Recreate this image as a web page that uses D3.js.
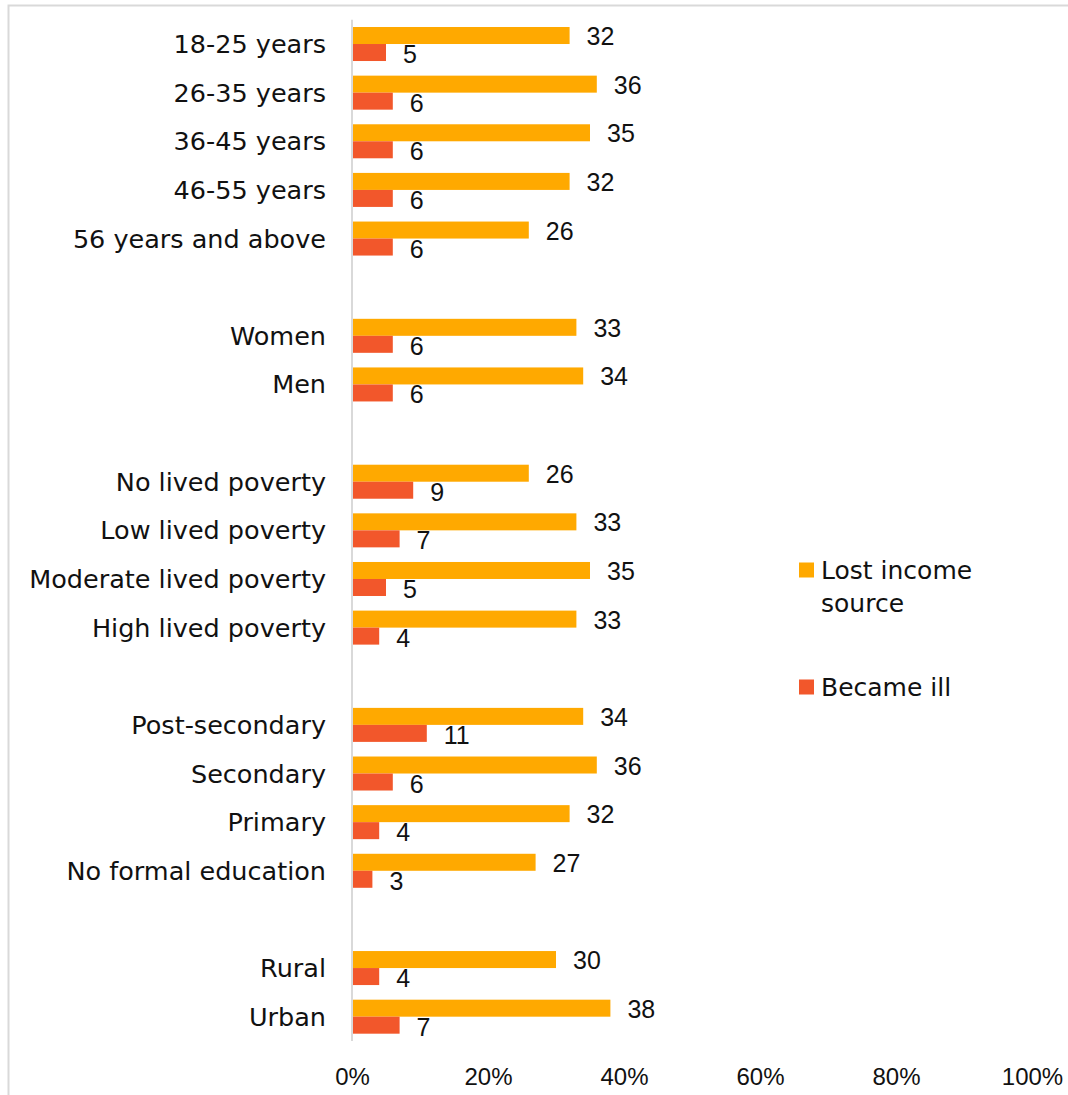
<!DOCTYPE html>
<html><head><meta charset="utf-8">
<script src="https://cdn.jsdelivr.net/npm/d3@7"></script>
<style>body{margin:0;background:#fff}svg{display:block}</style>
</head><body>
<script>
const categories = ["18-25 years","26-35 years","36-45 years","46-55 years","56 years and above","",
  "Women","Men","",
  "No lived poverty","Low lived poverty","Moderate lived poverty","High lived poverty","",
  "Post-secondary","Secondary","Primary","No formal education","",
  "Rural","Urban"];
const lostIncome = [32,36,35,32,26,null,33,34,null,26,33,35,33,null,34,36,32,27,null,30,38];
const becameIll  = [5,6,6,6,6,null,6,6,null,9,7,5,4,null,11,6,4,3,null,4,7];
const seriesNames = ["Lost income source","Became ill"];
const xTicks = [0,20,40,60,80,100];

const W=1068,H=1095;
const colors=["#FFA900","#F2572B"];
const font="'DejaVu Sans', sans-serif";
const numFont="'Liberation Sans', Arial, sans-serif";
const svg=d3.select("body").append("svg").attr("width",W).attr("height",H);
svg.append("rect").attr("x",8.5).attr("y",5.5).attr("width",1200).attr("height",1200)
  .attr("fill","#fff").attr("stroke","#d9d9d9").attr("stroke-width",2);

const keys=categories.map((c,i)=>c===""?"gap"+i:c);
const x=d3.scaleLinear().domain([0,100]).range([352,1032]);
const y=d3.scaleBand().domain(keys).range([19.7,1041]).paddingInner(0).paddingOuter(0);
const inner=d3.scaleBand().domain([0,1]).range([0,y.bandwidth()]).paddingInner(0).paddingOuter(0.43);

const data=[lostIncome,becameIll];
data.forEach((vals,s)=>{
  const g=svg.append("g");
  vals.forEach((v,i)=>{
    if(v==null) return;
    const y0=y(keys[i])+inner(s);
    g.append("rect").attr("x",x(0)).attr("y",y0).attr("width",x(v)-x(0)).attr("height",inner.bandwidth()).attr("fill",colors[s]);
    g.append("text").attr("x",x(v)+17).attr("y",y0+inner.bandwidth()/2+(s?1.5:0.5)).attr("dominant-baseline","central")
      .attr("font-family",numFont).attr("font-size",25).attr("fill","#111").text(v);
  });
});

// category labels
keys.forEach((k,i)=>{
  if(categories[i]==="") return;
  svg.append("text").attr("x",326).attr("y",y(k)+y.bandwidth()/2).attr("dominant-baseline","central")
    .attr("text-anchor","end").attr("font-family",font).attr("font-size",25.5).attr("fill","#111").text(categories[i]);
});
// vertical axis line
svg.append("line").attr("x1",x(0)).attr("x2",x(0)).attr("y1",19.7).attr("y2",1041).attr("stroke","#d9d9d9").attr("stroke-width",2);

// x axis
const xAxis=svg.append("g").attr("transform","translate(0,1066)")
  .call(d3.axisBottom(x).tickValues(xTicks).tickFormat(d=>d+"%").tickSize(0).tickPadding(0));
xAxis.select(".domain").remove();
xAxis.selectAll("text").attr("font-family",numFont).attr("font-size",24).attr("fill","#111").attr("dy","0.35em").attr("y",11);

// legend
const leg=[{y:570,lines:["Lost income","source"]},{y:687,lines:["Became ill"]}];
leg.forEach((l,i)=>{
  svg.append("rect").attr("x",799).attr("y",l.y-7.5).attr("width",15).attr("height",15).attr("fill",colors[i]);
  const t=svg.append("text").attr("x",821).attr("y",l.y).attr("dominant-baseline","central")
    .attr("font-family",font).attr("font-size",25).attr("fill","#111");
  l.lines.forEach((ln,j)=>t.append("tspan").attr("x",821).attr("dy",j?33:0).text(ln));
});
</script>
</body></html>
